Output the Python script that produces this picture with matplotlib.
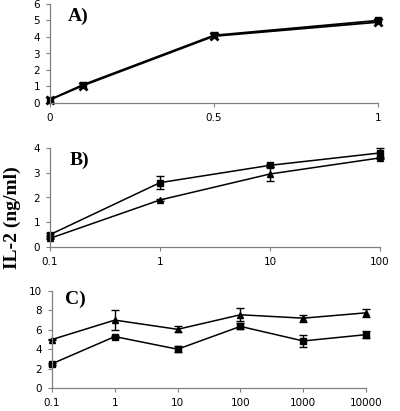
import matplotlib
matplotlib.use("Agg")
import matplotlib.pyplot as plt
from matplotlib.ticker import FixedLocator, FixedFormatter, NullLocator

# Panel A data
a_x = [0, 0.1, 0.5, 1]
a_sq = [0.2, 1.1, 4.1, 5.0]
a_x2 = [0.2, 1.05, 4.05, 4.9]

# Panel B data
b_x = [0.1, 1, 10, 100]
b_sq = [0.5, 2.6, 3.3, 3.8]
b_sq_err = [0.05, 0.25, 0.05, 0.2]
b_tri = [0.35, 1.9, 2.95, 3.6]
b_tri_err = [0.03, 0.05, 0.3, 0.05]

# Panel C data
c_x = [0.1, 1, 10, 100, 1000, 10000]
c_tri = [5.0, 7.0, 6.05, 7.55, 7.2, 7.75]
c_tri_err = [0.1, 1.0, 0.3, 0.65, 0.35, 0.4]
c_sq = [2.5, 5.3, 4.0, 6.35, 4.85, 5.5]
c_sq_err = [0.1, 0.1, 0.3, 0.3, 0.65, 0.35]

W, H = 400, 411
TICK_FONT = "DejaVu Sans"
SERIF = "Liberation Serif"


def px_axes(fig, left, right, top, bottom):
    return fig.add_axes([left / W, 1 - bottom / H, (right - left) / W, (bottom - top) / H])


def style(ax, yticks, xticks, xlabels, log=False):
    for s in ("top", "right"):
        ax.spines[s].set_visible(False)
    for s in ("left", "bottom"):
        ax.spines[s].set_color("#808080")
        ax.spines[s].set_linewidth(0.9)
    if log:
        ax.set_xscale("log")
    ax.xaxis.set_major_locator(FixedLocator(xticks))
    ax.xaxis.set_major_formatter(FixedFormatter(xlabels))
    ax.xaxis.set_minor_locator(NullLocator())
    ax.set_yticks(yticks)
    ax.set_yticklabels([str(v) for v in yticks])
    ax.tick_params(axis="both", direction="out", length=3, width=0.8, color="#808080",
                   labelsize=7.5, pad=4)
    ax.tick_params(axis="x", pad=4.5)
    for lab in ax.get_xticklabels() + ax.get_yticklabels():
        lab.set_family(TICK_FONT)


fig = plt.figure(figsize=(W / 100, H / 100), dpi=100)

# A)
ax = px_axes(fig, 50, 378, 4, 103)
ax.plot(a_x, a_sq, color="black", lw=1.3, marker="s", ms=5, clip_on=False)
ax.plot(a_x, a_x2, color="black", lw=1.3, ls="-", clip_on=False)
ax.plot(a_x, a_x2, ls="none", color="black", marker="x", ms=6, mew=2, clip_on=False)
ax.set_xlim(0, 1)
ax.set_ylim(0, 6)
style(ax, [0, 1, 2, 3, 4, 5, 6], [0, 0.5, 1], ["0", "0.5", "1"])
ax.text(0.055, 0.83, "A)", transform=ax.transAxes, family=SERIF, fontweight="bold", fontsize=14)

# B)
ax = px_axes(fig, 50, 380, 148, 247)
ax.errorbar(b_x, b_sq, yerr=b_sq_err, color="black", lw=1.1, marker="s", ms=5,
            capsize=3, elinewidth=1, clip_on=False)
ax.errorbar(b_x, b_tri, yerr=b_tri_err, color="black", lw=1.1, marker="^", ms=5,
            capsize=3, elinewidth=1, clip_on=False)
ax.set_xlim(0.1, 100)
ax.set_ylim(0, 4)
style(ax, [0, 1, 2, 3, 4], b_x, ["0.1", "1", "10", "100"], log=True)
ax.text(0.06, 0.83, "B)", transform=ax.transAxes, family=SERIF, fontweight="bold", fontsize=14)

# C)
ax = px_axes(fig, 52, 366, 291, 388)
ax.errorbar(c_x, c_tri, yerr=c_tri_err, color="black", lw=1.1, marker="^", ms=5,
            capsize=3, elinewidth=1, clip_on=False)
ax.errorbar(c_x, c_sq, yerr=c_sq_err, color="black", lw=1.1, marker="s", ms=5,
            capsize=3, elinewidth=1, clip_on=False)
ax.set_xlim(0.1, 10000)
ax.set_ylim(0, 10)
style(ax, [0, 2, 4, 6, 8, 10], c_x, ["0.1", "1", "10", "100", "1000", "10000"], log=True)
ax.text(0.04, 0.87, "C)", transform=ax.transAxes, family=SERIF, fontweight="bold", fontsize=14)

fig.text(12 / W, 1 - 218 / H, "IL-2 (ng/ml)", rotation=90, ha="center", va="center",
         family=SERIF, fontweight="bold", fontsize=14)

fig.savefig("out.png", dpi=100)
